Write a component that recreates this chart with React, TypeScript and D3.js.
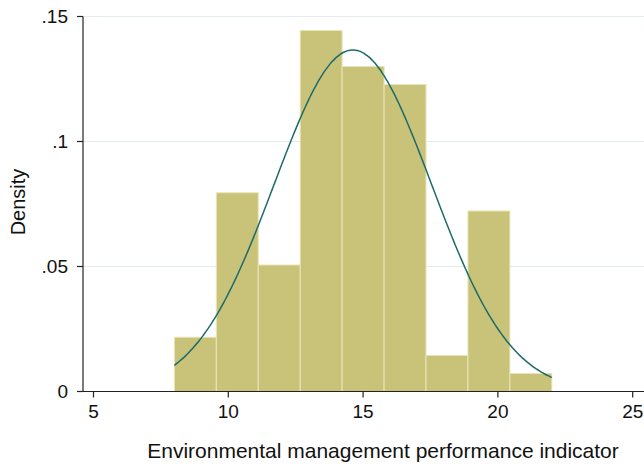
import React from "react";
import * as d3 from "d3";

const binEdgesStart = 8;
const binEdgesEnd = 22;
const binDensities = [0.0217, 0.0795, 0.0506, 0.1444, 0.13, 0.1228, 0.0144, 0.0722, 0.0072];
const normalMean = 14.62;
const normalSd = 2.92;
const xTicks = [5, 10, 15, 20, 25];
const yTicks = [0, 0.05, 0.1, 0.15];
const yTickLabels = ["0", ".05", ".1", ".15"];
const xTitle = "Environmental management performance indicator";
const yTitle = "Density";

const W = 644;
const H = 466;

export default function App() {
  const x = d3.scaleLinear().domain([5, 25]).range([93.5, 632.7]);
  const y = d3.scaleLinear().domain([0, 0.15]).range([391.5, 16.5]);
  const plotLeft = 83;
  const plotRight = 644;
  const nb = binDensities.length;
  const bw = (binEdgesEnd - binEdgesStart) / nb;
  const bins = binDensities.map((d, i) => ({
    x0: binEdgesStart + i * bw,
    x1: binEdgesStart + (i + 1) * bw,
    d,
  }));
  const pts = d3.range(0, 201).map((i) => {
    const v = binEdgesStart + ((binEdgesEnd - binEdgesStart) * i) / 200;
    const z = (v - normalMean) / normalSd;
    return [v, Math.exp(-0.5 * z * z) / (normalSd * Math.sqrt(2 * Math.PI))] as [number, number];
  });
  const line = d3
    .line<[number, number]>()
    .x((p) => x(p[0]))
    .y((p) => y(p[1]))
    .curve(d3.curveBasis);
  const font = "Liberation Sans, Arial, Helvetica, sans-serif";
  return (
    <svg
      width={W}
      height={H}
      style={{ position: "absolute", left: 0, top: 0, background: "#fff" }}
      fontFamily={font}
    >
      {yTicks.slice(1).map((t) => (
        <line key={t} x1={plotLeft} x2={plotRight} y1={y(t)} y2={y(t)} stroke="#e3ecef" strokeWidth={1} />
      ))}
      {bins.map((b, i) => (
        <rect
          key={i}
          x={x(b.x0)}
          y={y(b.d)}
          width={x(b.x1) - x(b.x0)}
          height={y(0) - y(b.d)}
          fill="#c9c37a"
          stroke="#e9e4b6"
          strokeWidth={1}
        />
      ))}
      <path d={line(pts) || ""} fill="none" stroke="#1d6a6a" strokeWidth={1.5} />
      <line x1={plotLeft} x2={plotLeft} y1={y(0.15)} y2={y(0)} stroke="#222" strokeWidth={1.2} />
      <line x1={plotLeft} x2={plotRight} y1={y(0)} y2={y(0)} stroke="#222" strokeWidth={1.2} />
      {yTicks.map((t, i) => (
        <g key={t}>
          <line x1={plotLeft - 6} x2={plotLeft} y1={y(t)} y2={y(t)} stroke="#222" strokeWidth={1.2} />
          <text x={plotLeft - 15} y={y(t)} dy="0.35em" textAnchor="end" fontSize={19} fill="#111">
            {yTickLabels[i]}
          </text>
        </g>
      ))}
      {xTicks.map((t) => (
        <g key={t}>
          <line x1={x(t)} x2={x(t)} y1={y(0)} y2={y(0) + 6} stroke="#222" strokeWidth={1.2} />
          <text x={x(t)} y={y(0) + 26} textAnchor="middle" fontSize={19} fill="#111">
            {t}
          </text>
        </g>
      ))}
      <text x={383} y={458} textAnchor="middle" fontSize={21} fill="#111">
        {xTitle}
      </text>
      <text transform={`translate(25,${202}) rotate(-90)`} textAnchor="middle" fontSize={20} fill="#111">
        {yTitle}
      </text>
    </svg>
  );
}
